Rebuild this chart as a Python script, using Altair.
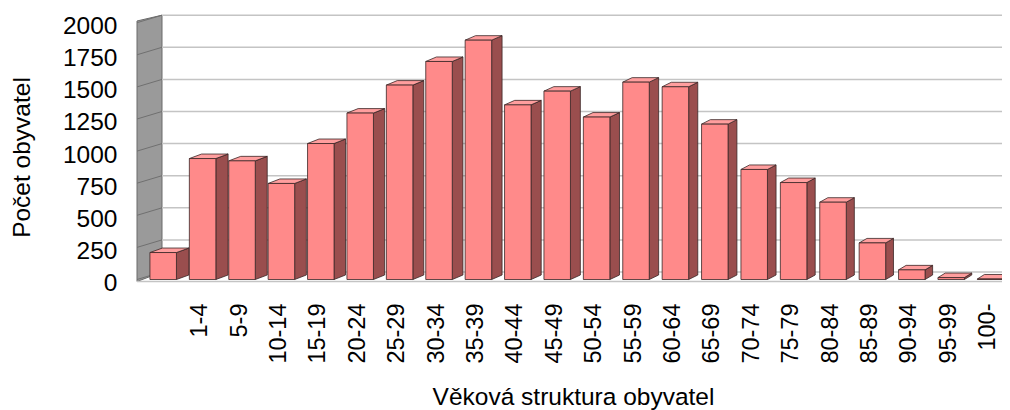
import json
import altair as alt
import pandas as pd

# ---------------- data ----------------
AGE_GROUPS = ["", "1-4", "5-9", "10-14", "15-19", "20-24", "25-29", "30-34", "35-39",
              "40-44", "45-49", "50-54", "55-59", "60-64", "65-69", "70-74", "75-79",
              "80-84", "85-89", "90-94", "95-99", "100-"]
POPULATION = [210, 942, 924, 748, 1059, 1296, 1514, 1698, 1864, 1360, 1467, 1265,
              1537, 1501, 1210, 857, 755, 602, 285, 75, 15, 4]
Y_TICKS = [0, 250, 500, 750, 1000, 1250, 1500, 1750, 2000]
Y_TITLE = "Počet obyvatel"
X_TITLE = "Věková struktura obyvatel"

# ---------------- layout / style ----------------
FONT = "Liberation Sans"
PX_PER_X = 39.4
PLOT_W, PLOT_H = 865, 275
X_DOMAIN = [-0.665, -0.665 + PLOT_W / PX_PER_X]
Y_DOMAIN = [-58.4, 2083.3]
XU = 1.0 / PX_PER_X                          # x units per pixel
YU = (Y_DOMAIN[1] - Y_DOMAIN[0]) / PLOT_H    # y units per pixel
X_EDGE = X_DOMAIN[0] + 872 * XU              # gridlines run to the right page edge

HALF_W = 13.25 * XU          # half of bar front width
BAR_DY = 4.5 * YU            # bar depth (vertical)
BACK_DY = 7.5 * YU           # back wall offset (vertical)
WALL_X0 = X_DOMAIN[0]
WALL_X1 = WALL_X0 + 25 * XU
FLOOR_Y = -2 * YU

FRONT_C = "#FF8A8A"
SIDE_C = "#9A4E4E"
TOP_C = "#FF9E9E"
OUTLINE = "#3a2626"

xs = alt.Scale(domain=X_DOMAIN, nice=False, zero=False)
ys = alt.Scale(domain=Y_DOMAIN, nice=False, zero=False)

label_expr = json.dumps(AGE_GROUPS) + "[datum.value]"
X_AXIS = alt.Axis(
    values=list(range(len(AGE_GROUPS))), labelExpr=label_expr,
    orient="bottom", labelAngle=270, labelAlign="right", labelBaseline="middle",
    labelPadding=16, labelOffset=-3, labelFontSize=23.5, labelFont=FONT,
    labelColor="#000000",
    labelOverlap=False, labelFlush=False, labelBound=False,
    ticks=False, tickSize=0, domain=False, grid=False,
    title=X_TITLE, titleFont=FONT, titleFontSize=24.5, titleFontWeight="normal",
    titleColor="#000000", titleBaseline="alphabetic", titleY=117,
    titleX=436,
)
Y_AXIS = alt.Axis(
    values=Y_TICKS, orient="left", format="d",
    labelPadding=20, labelOffset=4, labelFontSize=24.5, labelFont=FONT,
    labelColor="#000000", labelFlush=False, labelOverlap=False,
    ticks=False, tickSize=0, domain=False, grid=False,
    title=Y_TITLE, titleFont=FONT, titleFontSize=24.5, titleFontWeight="normal",
    titleColor="#000000", titleAngle=270, titleAlign="center",
    titleBaseline="middle", titleX=-115, titleY=145,
)


def X(field):
    return alt.X(field, scale=xs, axis=X_AXIS)


def Y(field):
    return alt.Y(field, scale=ys, axis=Y_AXIS)


# ---------------- derived tables ----------------
front_rows, side_rows, top_rows = [], [], []
for i, v in enumerate(POPULATION):
    dx = (12.5 - 0.26 * i) * XU
    xl, xr = i - HALF_W, i + HALF_W
    front_rows.append(dict(i=i, xl=xl, xr=xr, v=v, y0=0))
    side_rows += [dict(i=i, x=xr, y=0, y2=v),
                  dict(i=i, x=xr + dx, y=BAR_DY, y2=v + BAR_DY)]
    top_rows += [dict(i=i, y=v, x=xl, x2=xr),
                 dict(i=i, y=v + BAR_DY, x=xl + dx, x2=xr + dx)]
front_df = pd.DataFrame(front_rows)
side_df = pd.DataFrame(side_rows)
top_df = pd.DataFrame(top_rows)

top_val = Y_TICKS[-1]
wall_df = pd.DataFrame([
    dict(x=WALL_X0, y=FLOOR_Y, y2=top_val + 1.7 * YU),
    dict(x=WALL_X1, y=BACK_DY, y2=top_val + BACK_DY),
])
grid_df = pd.DataFrame([
    dict(v=t, xa=WALL_X0, xb=WALL_X1, xe=X_EDGE, ya=t, yb=t + BACK_DY) for t in Y_TICKS
])
floor_df = pd.DataFrame([dict(xa=WALL_X0, xe=X_EDGE, y=FLOOR_Y)])

# ---------------- layers ----------------
wall = alt.Chart(wall_df).mark_area(
    orient="vertical", fill="#9a9a9a", stroke="#6a6a6a", strokeWidth=1
).encode(x=X("x:Q"), y=Y("y:Q"), y2="y2:Q")

wall_grid = alt.Chart(grid_df).mark_rule(color="#707070", strokeWidth=1).encode(
    x=X("xa:Q"), x2="xb:Q", y=Y("ya:Q"), y2="yb:Q",
)

back_grid = alt.Chart(grid_df).mark_rule(color="#c4c4c4", strokeWidth=1.5).encode(
    x=X("xb:Q"), x2="xe:Q", y=Y("yb:Q"),
)

floor = alt.Chart(floor_df).mark_rule(color="#c4c4c4", strokeWidth=1.5).encode(
    x=X("xa:Q"), x2="xe:Q", y=Y("y:Q"),
)

side = alt.Chart(side_df).mark_area(
    orient="vertical", fill=SIDE_C, stroke=OUTLINE, strokeWidth=0.8
).encode(x=X("x:Q"), y=Y("y:Q"), y2="y2:Q", detail="i:N")

top = alt.Chart(top_df).mark_area(
    orient="horizontal", fill=TOP_C, stroke=OUTLINE, strokeWidth=0.8
).encode(y=Y("y:Q"), x=X("x:Q"), x2="x2:Q", detail="i:N")

front = alt.Chart(front_df).mark_rect(
    fill=FRONT_C, stroke=OUTLINE, strokeWidth=0.8
).encode(x=X("xl:Q"), x2="xr:Q", y=Y("v:Q"), y2="y0:Q")

chart = alt.layer(wall, wall_grid, back_grid, floor, side, top, front).properties(
    width=PLOT_W, height=PLOT_H,
    autosize=alt.AutoSizeParams(type="none"),
    padding={"left": 129, "top": 4, "right": 0, "bottom": 123},
    background="#ffffff",
).configure_view(stroke=None)

chart.save("out.html", embed_options={"renderer": "svg", "actions": False})
